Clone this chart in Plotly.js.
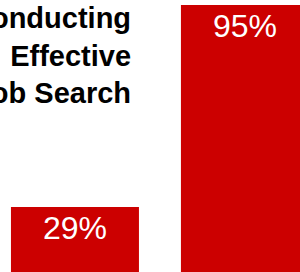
<!DOCTYPE html>
<html>
<head>
<meta charset="utf-8">
<script src="https://cdn.plot.ly/plotly-3.0.1.min.js"></script>
<style>html,body{margin:0;padding:0;background:#fff;overflow:hidden}#chart{width:300px;height:272px}</style>
</head>
<body>
<div id="chart"></div>
<script>
const categories = ["A", "B"];
const values = [29, 95];
const labels = ["29%", "95%"];
const titleLines = ["Conducting", "Effective", "Job Search"];

const trace = {
  type: "bar",
  x: categories,
  y: values,
  text: labels,
  textposition: "inside",
  insidetextanchor: "end",
  textfont: {family: "Liberation Sans, Arial, sans-serif", size: 32, color: "#ffffff"},
  marker: {color: "#CC0000"},
  width: 0.753,
  hoverinfo: "none",
  cliponaxis: true
};

const layout = {
  width: 300,
  height: 272,
  margin: {l: 0, r: 0, t: 0, b: 0, pad: 0},
  paper_bgcolor: "#ffffff",
  plot_bgcolor: "#ffffff",
  showlegend: false,
  xaxis: {type: "category", range: [-0.441, 1.324], visible: false, fixedrange: true},
  yaxis: {range: [7.76, 96.63], visible: false, fixedrange: true},
  annotations: [{
    xref: "paper", yref: "paper",
    x: 133 / 300, y: 1.0,
    xanchor: "right", yanchor: "top",
    align: "right",
    showarrow: false,
    text: titleLines.join("<br>"),
    font: {family: "Liberation Sans, Arial, sans-serif", size: 29, color: "#000000", weight: "bold"}
  }]
};

Plotly.newPlot("chart", [trace], layout, {displayModeBar: false, staticPlot: true});
</script>
</body>
</html>
